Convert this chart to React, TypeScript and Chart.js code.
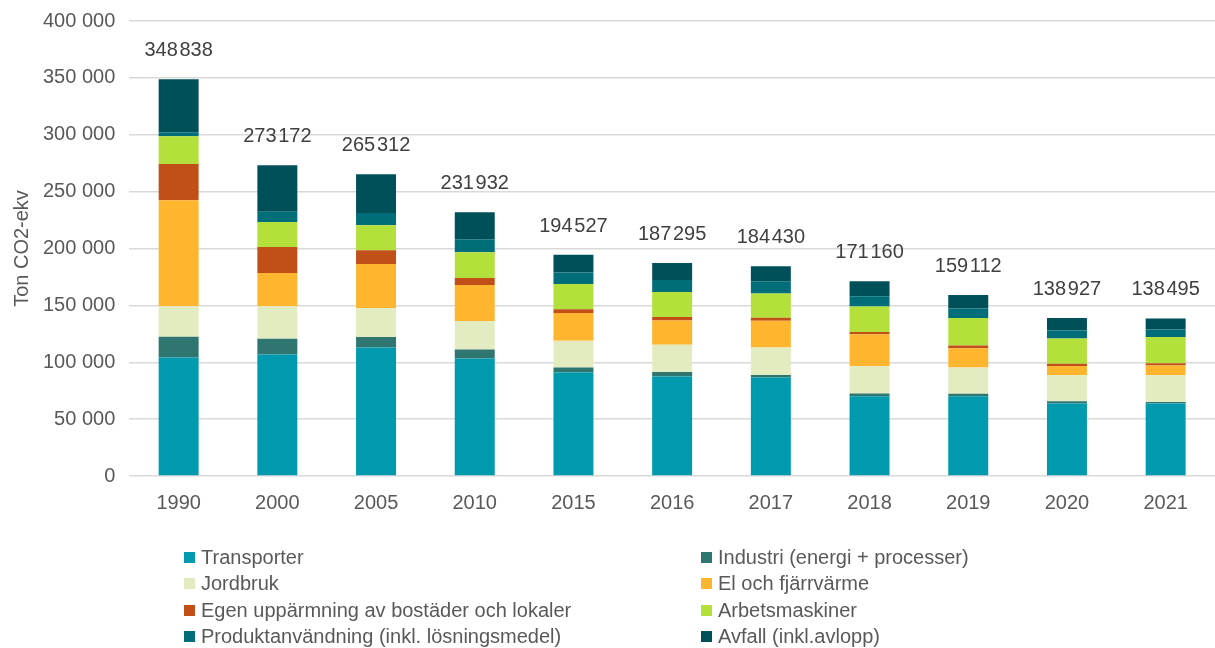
import React, { useEffect, useRef } from "react";
import { Chart, registerables } from "chart.js";

Chart.register(...registerables);

const years = ["1990", "2000", "2005", "2010", "2015", "2016", "2017", "2018", "2019", "2020", "2021"];

const transporter = [104200, 106900, 113000, 103300, 91000, 87400, 86600, 70100, 70100, 63700, 63700];
const industri = [18200, 13800, 9100, 8000, 4400, 4100, 2300, 2400, 2100, 2000, 1400];
const jordbruk = [26800, 28500, 25600, 24900, 23400, 23800, 24100, 24000, 23200, 22900, 23500];
const elFjarr = [93300, 29300, 38700, 31700, 24400, 21400, 23400, 28200, 16900, 8200, 8500];
const egenUpp = [31700, 22900, 12100, 6200, 3500, 3000, 2700, 2000, 2400, 1800, 2100];
const arbets = [24400, 22000, 22000, 22600, 22000, 22000, 21400, 22300, 24100, 22300, 22900];
const produkt = [3500, 8800, 10600, 11500, 10300, 10500, 10600, 9100, 8500, 7000, 6700];
const avfall = [46700, 40900, 34200, 23700, 15500, 15100, 13300, 13000, 11800, 11000, 9700];

const totals = [348838, 273172, 265312, 231932, 194527, 187295, 184430, 171160, 159112, 138927, 138495];

const yTicks = [0, 50000, 100000, 150000, 200000, 250000, 300000, 350000, 400000];

const seriesNames = [
  "Transporter",
  "Industri (energi + processer)",
  "Jordbruk",
  "El och fjärrvärme",
  "Egen uppärmning av bostäder och lokaler",
  "Arbetsmaskiner",
  "Produktanvändning (inkl. lösningsmedel)",
  "Avfall (inkl.avlopp)",
];
const seriesData = [transporter, industri, jordbruk, elFjarr, egenUpp, arbets, produkt, avfall];
const seriesColors = ["#009AAE", "#2F7570", "#E3ECC1", "#FFB62E", "#C05018", "#B3E03B", "#006E78", "#00505A"];

const FONT = '"Liberation Sans", Arial, sans-serif';
const TEXT = "#595959";

const fmtSpace = (v: number) => {
  const s = Math.round(v).toString();
  return s.replace(/\B(?=(\d{3})+(?!\d))/g, " ");
};
const fmtThin = (v: number) => {
  const s = Math.round(v).toString();
  return s.replace(/\B(?=(\d{3})+(?!\d))/g, "\u200A");
};

const totalsPlugin = {
  id: "totalsPlugin",
  afterDatasetsDraw(chart: any) {
    const { ctx, scales } = chart;
    const xs = scales.x;
    const ys = scales.y;
    ctx.save();
    ctx.font = `20px ${FONT}`;
    ctx.fillStyle = "#404040";
    ctx.textAlign = "center";
    ctx.textBaseline = "middle";
    totals.forEach((t, i) => {
      const x = xs.getPixelForValue(i);
      const y = ys.getPixelForValue(t) - 28.5;
      ctx.fillText(fmtThin(t), x, y);
    });
    ctx.restore();
  },
};

const CANVAS_SHIFT = 5;

export default function App() {
  const ref = useRef<HTMLCanvasElement | null>(null);

  useEffect(() => {
    if (!ref.current) return;
    const chart = new Chart(ref.current, {
      type: "bar",
      data: {
        labels: years,
        datasets: seriesNames.map((name, i) => ({
          label: name,
          data: seriesData[i],
          backgroundColor: seriesColors[i],
          borderWidth: 0,
          barPercentage: 0.405,
          categoryPercentage: 1,
        })),
      },
      options: {
        responsive: false,
        animation: false,
        layout: { padding: { left: 3, top: 15, right: -7, bottom: 118 } },
        plugins: {
          legend: { display: false },
          tooltip: { enabled: false },
        },
        scales: {
          x: {
            stacked: true,
            grid: { display: false, drawTicks: false },
            border: { display: false },
            ticks: { font: { family: FONT, size: 20 }, color: TEXT, padding: 15 },
          },
          y: {
            stacked: true,
            min: 0,
            max: 400000,
            afterBuildTicks: (axis: any) => {
              axis.ticks = yTicks.map((v) => ({ value: v }));
            },
            grid: { color: "#D9D9D9", lineWidth: 1.5, drawTicks: false },
            border: { display: false },
            ticks: {
              font: { family: FONT, size: 20 },
              color: TEXT,
              padding: 14,
              callback: (v: any) => fmtSpace(Number(v)),
            },
            title: {
              display: true,
              text: "Ton CO2-ekv",
              font: { family: FONT, size: 20 },
              color: TEXT,
              padding: { top: 7, bottom: -5 },
            },
          },
        },
      },
      plugins: [totalsPlugin],
    });
    return () => chart.destroy();
  }, []);

  const legendRows = [
    [0, 1],
    [2, 3],
    [4, 5],
    [6, 7],
  ];
  const rowY = [557, 583.5, 610, 636.5];
  const colX = [184, 701];

  return (
    <div style={{ position: "absolute", left: 0, top: 0, width: 1215, height: 648, overflow: "hidden", background: "#fff" }}>
      <canvas
        ref={ref}
        width={1215}
        height={648 + CANVAS_SHIFT}
        style={{ position: "absolute", left: 0, top: -CANVAS_SHIFT, width: 1215, height: 648 + CANVAS_SHIFT, display: "block" }}
      />
      {legendRows.map((row, r) =>
        row.map((si, c) => (
          <div
            key={si}
            style={{
              position: "absolute",
              left: colX[c],
              top: rowY[r] - 12,
              height: 24,
              display: "flex",
              alignItems: "center",
              fontFamily: FONT,
              fontSize: 20,
              color: TEXT,
              whiteSpace: "nowrap",
            }}
          >
            <span style={{ display: "inline-block", width: 11, height: 11, background: seriesColors[si], marginRight: 6 }} />
            <span>{seriesNames[si]}</span>
          </div>
        ))
      )}
    </div>
  );
}
